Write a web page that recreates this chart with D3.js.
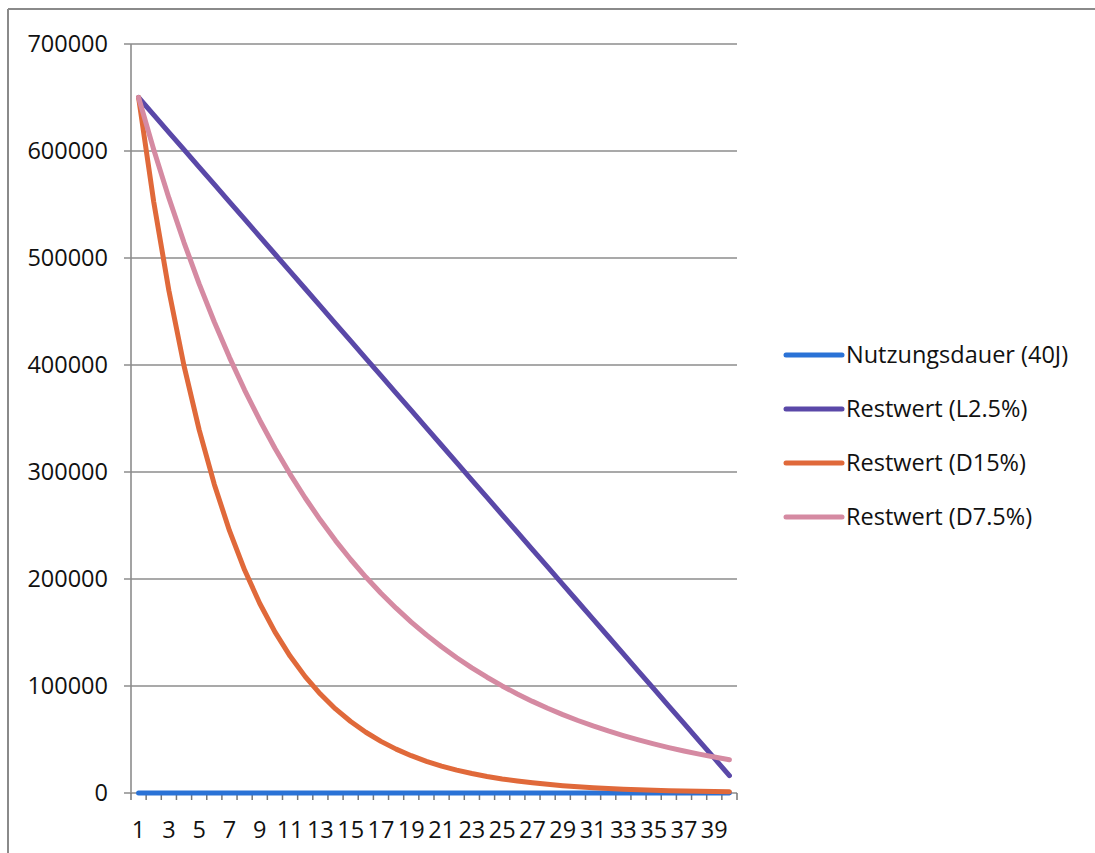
<!DOCTYPE html>
<html>
<head>
<meta charset="utf-8">
<script src="https://cdn.jsdelivr.net/npm/d3@7"></script>
<style>
  body { margin: 0; background: #fff; }
  text { font-family: "Open Sans", "Noto Sans", sans-serif; fill: #111; }
</style>
</head>
<body>
<svg id="chart" width="1095" height="853"></svg>
<script>
// Jahre 1..40
var years = [1,2,3,4,5,6,7,8,9,10,11,12,13,14,15,16,17,18,19,20,
             21,22,23,24,25,26,27,28,29,30,31,32,33,34,35,36,37,38,39,40];

var nutzungsdauer = [1,2,3,4,5,6,7,8,9,10,11,12,13,14,15,16,17,18,19,20,
                     21,22,23,24,25,26,27,28,29,30,31,32,33,34,35,36,37,38,39,40];

var restL25 = [650000,633750,617500,601250,585000,568750,552500,536250,520000,503750,
               487500,471250,455000,438750,422500,406250,390000,373750,357500,341250,
               325000,308750,292500,276250,260000,243750,227500,211250,195000,178750,
               162500,146250,130000,113750,97500,81250,65000,48750,32500,16250];

var restD15 = [650000,552500,469625,399181,339304,288408,245147,208375,177119,150551,
               127968,108773,92457,78588,66800,56780,48263,41024,34870,29640,
               25194,21415,18202,15472,13151,11178,9502,8076,6865,5835,
               4960,4216,3583,3046,2589,2201,1871,1590,1352,1149];

var restD75 = [650000,601250,556156,514445,475861,440171,407158,376621,348375,322247,
               298078,275722,255043,235915,218221,201855,186716,172712,159759,147777,
               136694,126442,116959,108187,100073,92567,85625,79203,73263,67768,
               62685,57984,53635,49613,45892,42450,39266,36321,33597,31078];

var yTicks = [0,100000,200000,300000,400000,500000,600000,700000];

var seriesNames = ["Nutzungsdauer (40J)", "Restwert (L2.5%)", "Restwert (D15%)", "Restwert (D7.5%)"];
var seriesColors = ["#2a72d6", "#5a48a8", "#e0693a", "#d58aa2"];
var seriesData = [nutzungsdauer, restL25, restD15, restD75];

var svg = d3.select("#chart");

// aeusserer Rahmen
svg.append("line").attr("x1", 8).attr("y1", 9).attr("x2", 1095).attr("y2", 9)
   .attr("stroke", "#8a8a8a").attr("stroke-width", 2);
svg.append("line").attr("x1", 8).attr("y1", 9).attr("x2", 8).attr("y2", 853)
   .attr("stroke", "#8a8a8a").attr("stroke-width", 2);

var pLeft = 131, pRight = 737, pTop = 44, pBottom = 793;

var x = d3.scaleBand().domain(years).range([pLeft, pRight]);
var y = d3.scaleLinear().domain([0, 700000]).range([pBottom, pTop]);

// Gitterlinien
svg.append("g").selectAll("line").data(yTicks).enter().append("line")
   .attr("x1", pLeft - 7).attr("x2", pRight)
   .attr("y1", function(d){ return y(d); })
   .attr("y2", function(d){ return y(d); })
   .attr("stroke", "#8c8c8c").attr("stroke-width", 1.6);

// y-Achse
svg.append("line").attr("x1", pLeft).attr("x2", pLeft).attr("y1", pTop).attr("y2", pBottom)
   .attr("stroke", "#8c8c8c").attr("stroke-width", 1.6);

svg.append("g").selectAll("text").data(yTicks).enter().append("text")
   .attr("x", 108).attr("y", function(d){ return y(d); })
   .attr("dy", "0.35em").attr("text-anchor", "end")
   .style("font-size", "23.5px")
   .text(function(d){ return d; });

// x-Achse Ticks an den Kategoriegrenzen
var bounds = years.map(function(d){ return x(d); }).concat([pRight]);
svg.append("g").selectAll("line").data(bounds).enter().append("line")
   .attr("x1", function(d){ return d; }).attr("x2", function(d){ return d; })
   .attr("y1", pBottom).attr("y2", pBottom + 7)
   .attr("stroke", "#777").attr("stroke-width", 1.5);

svg.append("g").selectAll("text")
   .data(years.filter(function(d){ return d % 2 == 1; }))
   .enter().append("text")
   .attr("x", function(d){ return x(d) + x.bandwidth() / 2; })
   .attr("y", 830).attr("dy", "0.35em").attr("text-anchor", "middle")
   .style("font-size", "23.5px")
   .text(function(d){ return d; });

// Linien
var line = d3.line()
   .x(function(d, i){ return x(years[i]) + x.bandwidth() / 2; })
   .y(function(d){ return y(d); });

seriesData.forEach(function(s, k){
   svg.append("path").datum(s)
      .attr("d", line)
      .attr("fill", "none")
      .attr("stroke", seriesColors[k])
      .attr("stroke-width", 5)
      .attr("stroke-linejoin", "round")
      .attr("stroke-linecap", "round");
});

// Legende
var legend = svg.append("g").selectAll("g").data(seriesNames).enter().append("g")
   .attr("transform", function(d, i){ return "translate(786," + (355 + i * 54) + ")"; });
legend.append("line").attr("x1", 0).attr("x2", 56).attr("y1", 0).attr("y2", 0)
   .attr("stroke", function(d, i){ return seriesColors[i]; })
   .attr("stroke-width", 5).attr("stroke-linecap", "round");
legend.append("text").attr("x", 60).attr("dy", "0.35em")
   .style("font-size", "23.5px")
   .text(function(d){ return d; });
</script>
</body>
</html>
